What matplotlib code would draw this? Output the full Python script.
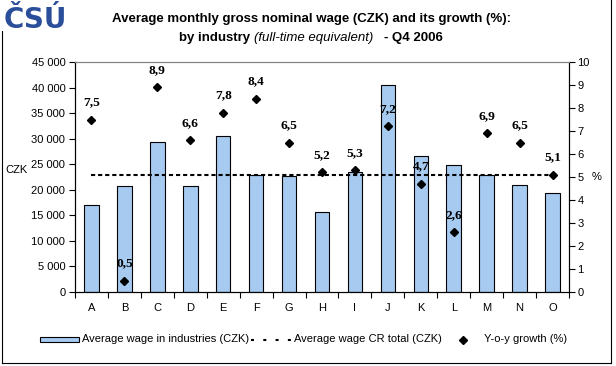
import numpy as np
import matplotlib
matplotlib.use("Agg")
import matplotlib.pyplot as plt
from matplotlib.patches import Rectangle
from matplotlib.lines import Line2D

# ---- data ----
categories = ["A", "B", "C", "D", "E", "F", "G", "H", "I", "J", "K", "L", "M", "N", "O"]
wages = [17000, 20700, 29400, 20700, 30600, 22900, 22700, 15650, 23500,
         40500, 26600, 24800, 22900, 20900, 19400]
growth = [7.5, 0.5, 8.9, 6.6, 7.8, 8.4, 6.5, 5.2, 5.3, 7.2, 4.7, 2.6, 6.9, 6.5, 5.1]
avg_total = 22800
left_ticks = [0, 5000, 10000, 15000, 20000, 25000, 30000, 35000, 40000, 45000]
left_tick_labels = ["0", "5 000", "10 000", "15 000", "20 000", "25 000",
                    "30 000", "35 000", "40 000", "45 000"]
right_ticks = list(range(0, 11))

W, H = 616, 366
SANS = ["Liberation Sans", "DejaVu Sans"]
SERIF = ["Liberation Serif", "DejaVu Serif"]
plt.rcParams["font.family"] = SANS

fig = plt.figure(figsize=(W / 100, H / 100), dpi=100)
fig.patch.set_facecolor("white")


def fx(x):
    return x / W


def fy(y):
    return 1 - y / H


ax = fig.add_axes([fx(75), fy(292), (569 - 75) / W, (292 - 62) / H])
x = np.arange(len(categories))

ax.bar(x, wages, width=0.44, color="#A6CAF0", edgecolor="black", linewidth=0.8, zorder=2)
ax.plot(x, [avg_total] * len(x), color="black", linewidth=1.5,
        linestyle=(0, (2.0, 1.4)), zorder=3)

ax.set_xlim(-0.5, len(categories) - 0.5)
ax.set_ylim(0, 45000)
ax.set_yticks(left_ticks)
ax.set_yticklabels(left_tick_labels, fontsize=8)
ax.set_xticks(np.arange(-0.5, len(categories), 1))
ax.set_xticklabels([])
ax.set_xticks(x, minor=True)
ax.set_xticklabels(categories, minor=True, fontsize=8)
ax.tick_params(axis="x", which="major", direction="out", length=4, width=0.8)
ax.tick_params(axis="x", which="minor", length=0, pad=8)
ax.tick_params(axis="y", direction="out", length=4, width=0.8, pad=3)

ax2 = ax.twinx()
ax2.set_ylim(0, 10)
ax2.set_yticks(right_ticks)
ax2.set_yticklabels([str(v) for v in right_ticks], fontsize=8)
ax2.tick_params(axis="y", direction="out", length=4, width=0.8, pad=2)
ax2.plot(x, growth, linestyle="none", marker="D", markersize=4.2,
         color="black", zorder=4)
for xi, g in zip(x, growth):
    ax2.annotate(f"{g:.1f}".replace(".", ","), (xi, g), xytext=(0, 12.5),
                 textcoords="offset points", ha="center", va="center",
                 fontsize=9.6, fontweight="bold", family=SERIF)

for a in (ax, ax2):
    a.spines["top"].set_color("#808080")
    a.spines["top"].set_linewidth(0.8)
    for s in ("left", "right", "bottom"):
        a.spines[s].set_color("black")
        a.spines[s].set_linewidth(0.8)
    a.patch.set_visible(False)

fig.text(fx(5), fy(170), "CZK", fontsize=8, ha="left", va="center")
fig.text(fx(592), fy(177), "%", fontsize=8, ha="left", va="center")

# ---- title ----
fig.text(fx(312), fy(19), "Average monthly gross nominal wage (CZK) and its growth (%):",
         fontsize=9.5, fontweight="bold", ha="center", va="center")
renderer = fig.canvas.get_renderer()
parts = [("by industry", dict(fontweight="bold", fontstyle="normal")),
         ("(full-time equivalent)", dict(fontweight="normal", fontstyle="italic")),
         ("- Q4 2006", dict(fontweight="bold", fontstyle="normal"))]
gaps = [4, 10]
texts = []
widths = []
for s, kw in parts:
    t = fig.text(0, fy(37.5), s, fontsize=9.5, ha="left", va="center", **kw)
    texts.append(t)
    widths.append(t.get_window_extent(renderer).width)
total = sum(widths) + sum(gaps)
cur = 311 - total / 2
for i, t in enumerate(texts):
    t.set_x(fx(cur))
    cur += widths[i] + (gaps[i] if i < len(gaps) else 0)

# ---- logo ----
fig.patches.append(Rectangle((0, fy(31)), fx(80), 31 / H, transform=fig.transFigure,
                             facecolor="white", edgecolor="none", zorder=5))
fig.text(fx(4), fy(27.5), "ČSÚ", fontsize=20, fontweight="bold", color="#2B4E9B",
         ha="left", va="baseline", zorder=6, family=["DejaVu Sans"])

# ---- outer border ----
bk = dict(color="black", linewidth=0.8, transform=fig.transFigure)
fig.add_artist(Line2D([fx(1.5), fx(1.5)], [fy(31), fy(363)], **bk))
fig.add_artist(Line2D([fx(1.5), fx(610.5)], [fy(363), fy(363)], **bk))
fig.add_artist(Line2D([fx(610.5), fx(610.5)], [fy(0), fy(363)], **bk))

# ---- legend ----
ly = 339.5
fig.patches.append(Rectangle((fx(39.5), fy(ly + 2.5)), 40 / W, 5 / H,
                             transform=fig.transFigure, facecolor="#A6CAF0",
                             edgecolor="black", linewidth=0.8))
fig.text(fx(82), fy(ly), "Average wage in industries (CZK)", fontsize=8, ha="left", va="center")
fig.add_artist(Line2D([fx(251), fx(291)], [fy(ly), fy(ly)], color="black", linewidth=1.5,
                      linestyle=(0, (1.44, 4.46)), transform=fig.transFigure))
fig.text(fx(294), fy(ly), "Average wage CR total (CZK)", fontsize=8, ha="left", va="center")
fig.add_artist(Line2D([fx(463)], [fy(ly)], marker="D", markersize=4.2, color="black",
                      linestyle="none", transform=fig.transFigure))
fig.text(fx(484), fy(ly), "Y-o-y growth (%)", fontsize=8, ha="left", va="center")

fig.savefig("out.png", dpi=100, facecolor="white")
